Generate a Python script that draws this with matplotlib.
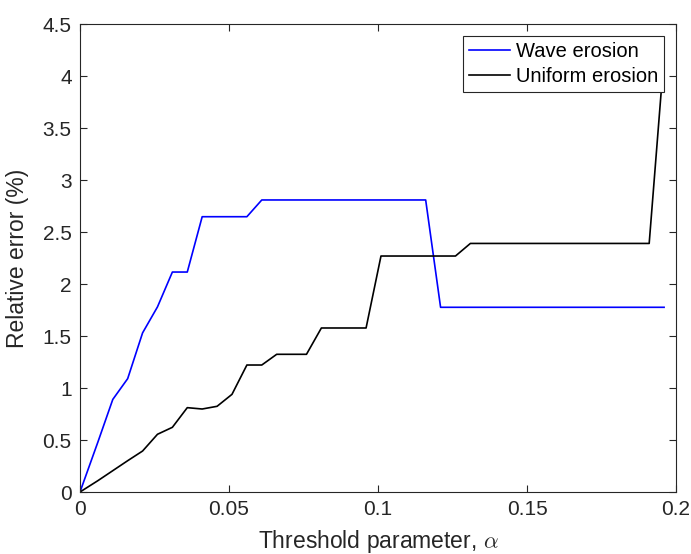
import matplotlib
matplotlib.use("Agg")
import matplotlib.pyplot as plt
import numpy as np

# Threshold parameter values
alpha = [0.0] + [round(0.001 + 0.005 * k, 3) for k in range(1, 40)]

wave_erosion = [0.0, 0.48, 0.89, 1.09, 1.53, 1.78, 2.115, 2.115,
                2.647, 2.647, 2.647, 2.647,
                2.808, 2.808, 2.808, 2.808, 2.808, 2.808, 2.808, 2.808,
                2.808, 2.808, 2.808, 2.808,
                1.776, 1.776, 1.776, 1.776, 1.776, 1.776, 1.776, 1.776,
                1.776, 1.776, 1.776, 1.776, 1.776, 1.776, 1.776, 1.776]

uniform_erosion = [0.0, 0.109, 0.205, 0.301, 0.394, 0.555, 0.622, 0.811,
                   0.798, 0.824, 0.939, 1.221, 1.221, 1.324, 1.324, 1.324,
                   1.577, 1.577, 1.577, 1.577,
                   2.269, 2.269, 2.269, 2.269, 2.269, 2.269,
                   2.39, 2.39, 2.39, 2.39, 2.39, 2.39, 2.39, 2.39,
                   2.39, 2.39, 2.39, 2.39, 2.39, 4.2]

xticks = [0, 0.05, 0.1, 0.15, 0.2]
xticklabels = ["0", "0.05", "0.1", "0.15", "0.2"]
yticks = [0, 0.5, 1, 1.5, 2, 2.5, 3, 3.5, 4, 4.5]
yticklabels = ["0", "0.5", "1", "1.5", "2", "2.5", "3", "3.5", "4", "4.5"]

plt.rcParams['font.family'] = ['Liberation Sans', 'DejaVu Sans']
plt.rcParams['mathtext.fontset'] = 'cm'

fig = plt.figure(figsize=(6.91, 5.54), dpi=100)
ax = fig.add_axes([80/691, 62/554, 596/691, 468/554])

ax.plot(alpha, wave_erosion, color=(0, 0, 1), lw=1.2, label="Wave erosion")
ax.plot(alpha, uniform_erosion, color="black", lw=1.2, label="Uniform erosion")

ax.set_xlim(0, 0.2)
ax.set_ylim(0, 4.5)
ax.set_xticks(xticks)
ax.set_xticklabels(xticklabels)
ax.set_yticks(yticks)
ax.set_yticklabels(yticklabels)

gray = (0.15, 0.15, 0.15)
for s in ax.spines.values():
    s.set_color(gray)
    s.set_linewidth(0.8)
ax.tick_params(direction="in", top=True, right=True, length=5, width=0.8,
               colors=gray, labelsize=15, pad=6)

ax.set_xlabel(r"Threshold parameter, $\alpha$", fontsize=16.5, color=gray, labelpad=6)
ax.set_ylabel("Relative error (%)", fontsize=16.5, color=gray, labelpad=10)

leg = ax.legend(loc="upper right", fontsize=14.5, frameon=True, fancybox=False,
                edgecolor=gray, framealpha=1, borderaxespad=0.6,
                handlelength=2.0, handletextpad=0.3, borderpad=0.3,
                labelspacing=0.3)
leg.get_frame().set_linewidth(0.8)

fig.savefig("out.png", dpi=100)
